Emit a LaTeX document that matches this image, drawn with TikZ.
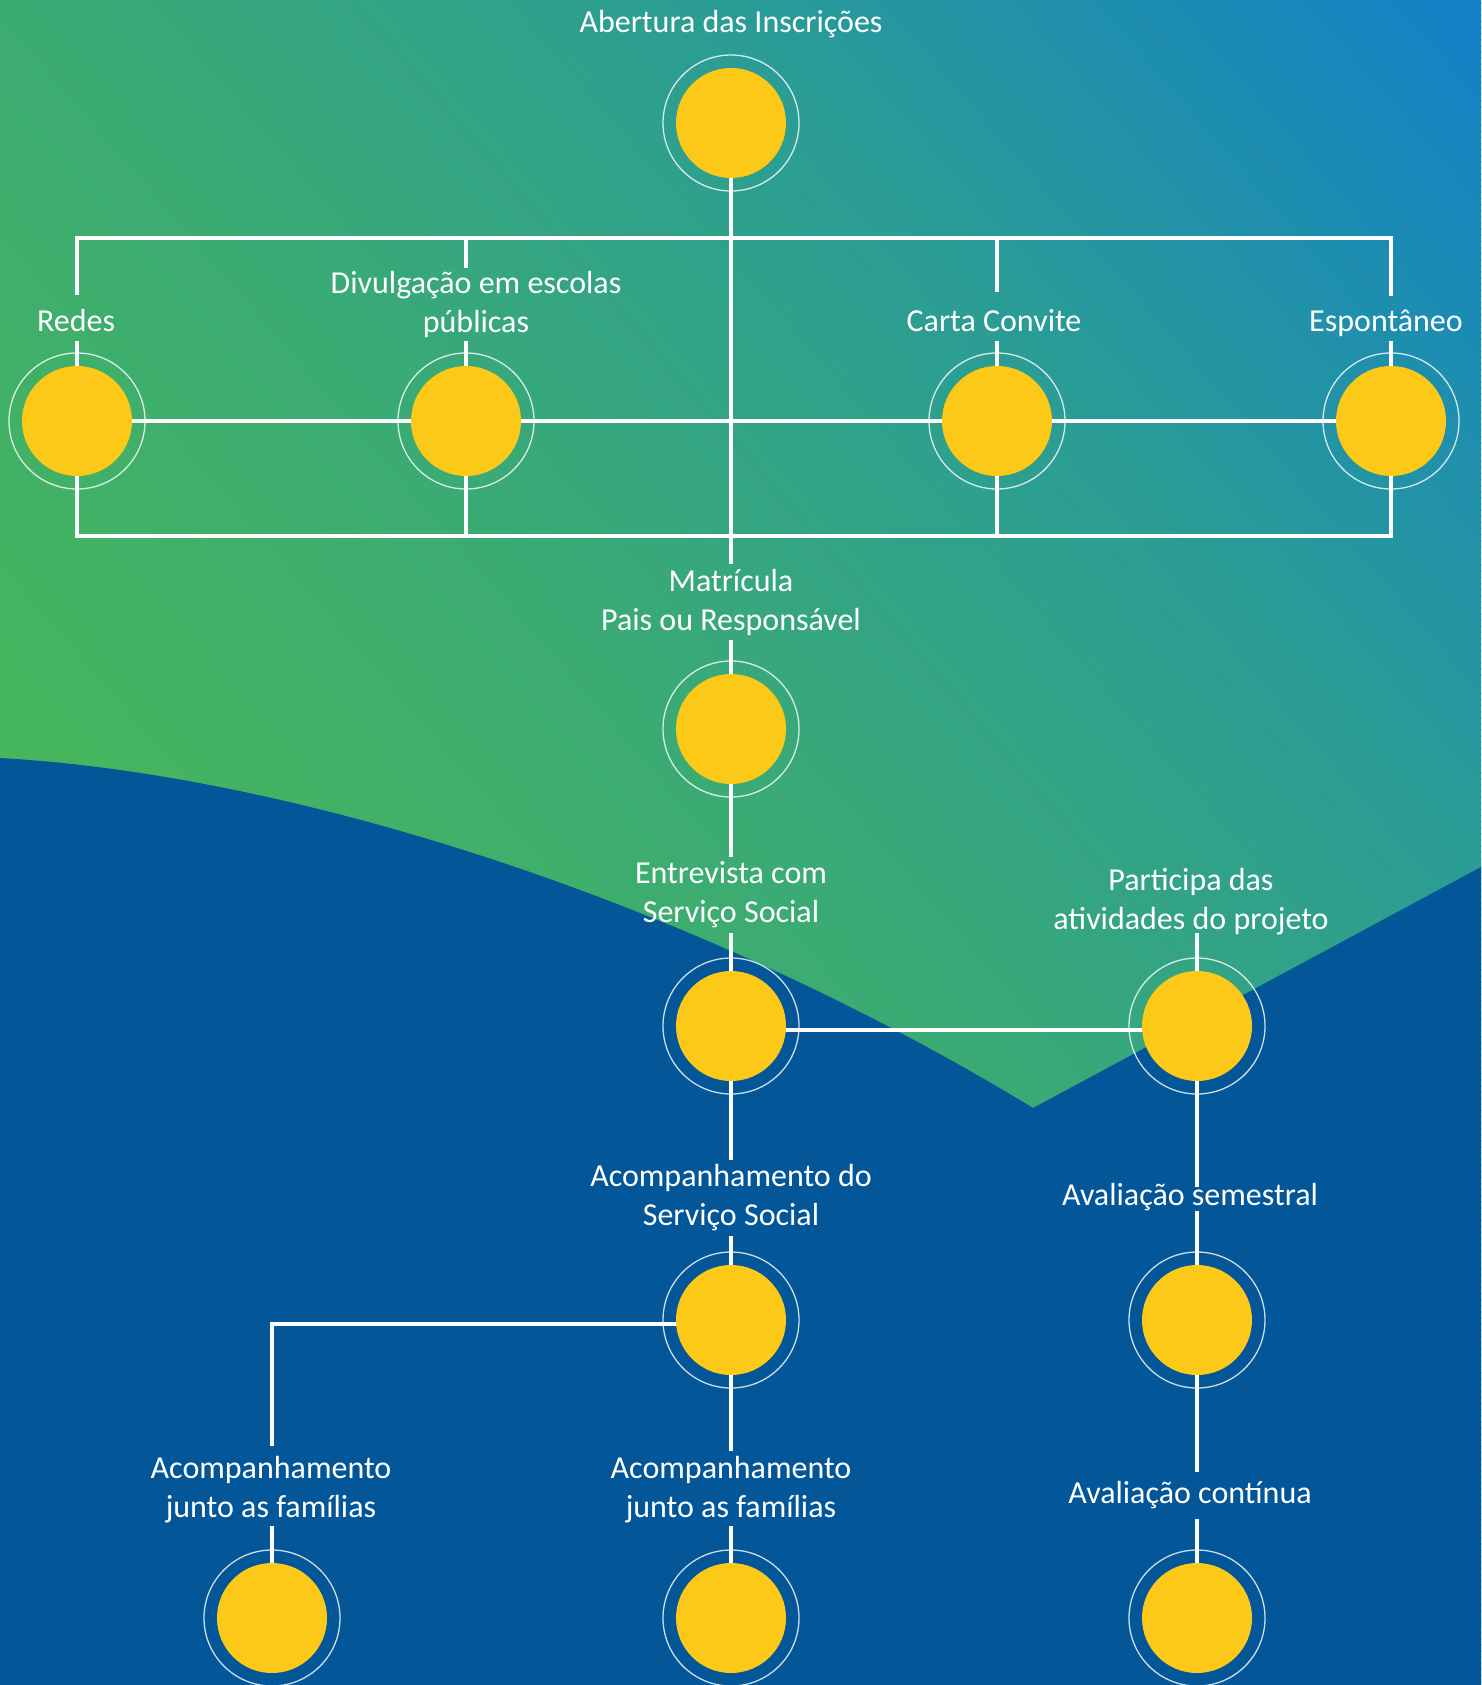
\documentclass[tikz,border=0pt]{standalone}
\usepackage{fontspec}
\setmainfont{Carlito}
\definecolor{bgG}{RGB}{70,182,92}
\definecolor{bgM}{RGB}{58,170,118}
\definecolor{bgT}{RGB}{42,156,150}
\definecolor{bgB}{RGB}{18,128,200}
\definecolor{navy}{RGB}{3,87,152}
\definecolor{yel}{RGB}{253,201,24}
\begin{document}
\begin{tikzpicture}[x=1pt,y=-1pt,
  conn/.style={draw=white, line width=4pt},
  ringline/.style={draw=white, draw opacity=0.8, line width=1.3pt},
  dot/.style={circle, fill=yel, minimum size=110pt, inner sep=0pt},
  lbl/.style={text=white, font=\fontsize{32pt}{39pt}\selectfont, align=center, inner sep=0pt, anchor=base}]
\useasboundingbox (0,0) rectangle (1481,1685);
% background gradient
\begin{scope}
\clip (0,0) rectangle (1481,1685);
\begin{scope}[rotate=40.9]
\fill[bgG] (-900,-2600) rectangle (-489,2600);
\foreach \p in {-490,-486,...,56} {\pgfmathsetmacro\t{(\p+490)/546*100}\fill[bgM!\t!bgG] (\p,-2600) rectangle (\p+5,2600);}
\foreach \p in {56,60,...,553} {\pgfmathsetmacro\t{(\p-56)/497*100}\fill[bgT!\t!bgM] (\p,-2600) rectangle (\p+5,2600);}
\foreach \p in {553,557,...,1120} {\pgfmathsetmacro\t{(\p-553)/567*100}\fill[bgB!\t!bgT] (\p,-2600) rectangle (\p+5,2600);}
\fill[bgB] (1120,-2600) rectangle (1600,2600);
\end{scope}
\fill[navy] (0,758) .. controls (300,775) and (700,905) .. (1033,1108) -- (1481,867) -- (1481,1685) -- (0,1685) -- cycle;
\end{scope}
% circle centres
\coordinate (top) at (731,123);
\coordinate (redes) at (77,421);
\coordinate (divul) at (466,421);
\coordinate (carta) at (997,421);
\coordinate (espont) at (1391,421);
\coordinate (matric) at (731,729);
\coordinate (entrev) at (731,1026);
\coordinate (partic) at (1197,1026);
\coordinate (acomp) at (731,1320);
\coordinate (avsem) at (1197,1320);
\coordinate (famA) at (272,1618);
\coordinate (famB) at (731,1618);
\coordinate (avcont) at (1197,1618);
% connectors
\draw[conn] (top) -- (731,564);
\draw[conn] (redes |- 0,295) -- (redes |- 0,238) -- (espont |- 0,238) -- (espont |- 0,296);
\draw[conn] (divul |- 0,238) -- (divul |- 0,268);
\draw[conn] (carta |- 0,238) -- (carta |- 0,292);
\foreach \c in {redes,divul,carta,espont} {\draw[conn] (\c) -- (\c |- 0,341);}
\draw[conn] (redes) -- (espont);
\draw[conn] (redes) -- (redes |- 0,536) -- (espont |- 0,536) -- (espont);
\draw[conn] (divul) -- (divul |- 0,536);
\draw[conn] (carta) -- (carta |- 0,536);
\draw[conn] (matric) -- (matric |- 0,640);
\draw[conn] (matric) -- (matric |- 0,857);
\draw[conn] (entrev) -- (entrev |- 0,933);
\draw[conn] (entrev |- 0,1030) -- (partic |- 0,1030);
\draw[conn] (partic) -- (partic |- 0,933);
\draw[conn] (entrev) -- (entrev |- 0,1160);
\draw[conn] (acomp) -- (acomp |- 0,1236);
\draw[conn] (partic) -- (partic |- 0,1187);
\draw[conn] (avsem) -- (avsem |- 0,1211);
\draw[conn] (avsem) -- (avsem |- 0,1472);
\draw[conn] (avcont) -- (avcont |- 0,1519);
\draw[conn] (acomp |- 0,1324) -| (famA |- 0,1446);
\draw[conn] (acomp) -- (acomp |- 0,1451);
\draw[conn] (famA) -- (famA |- 0,1526);
\draw[conn] (famB) -- (famB |- 0,1526);
% circles
\foreach \c in {top,redes,divul,carta,espont,matric,entrev,partic,acomp,avsem,famA,famB,avcont} {
  \draw[ringline] (\c) circle (68pt);
  \node[dot] (\c-dot) at (\c) {};
}
% labels (base = baseline of last line)
\node[lbl] (lAb) at (731,33) {Abertura das Inscrições};
\node[lbl] (lRedes) at (76,331) {Redes};
\node[lbl] (lDiv) at (476,332) {Divulgação em escolas\\públicas};
\node[lbl] (lCarta) at (994,331) {Carta Convite};
\node[lbl] (lEsp) at (1386,331) {Espontâneo};
\node[lbl] (lMat) at (731,630) {Matrícula\\Pais ou Responsável};
\node[lbl] (lEnt) at (731,922) {Entrevista com\\Serviço Social};
\node[lbl] (lPart) at (1191,929) {Participa das\\atividades do projeto};
\node[lbl] (lAcomp) at (731,1225) {Acompanhamento do\\Serviço Social};
\node[lbl] (lAvS) at (1190,1205) {Avaliação semestral};
\node[lbl] (lAvC) at (1190,1503) {Avaliação contínua};
\node[lbl] (lFamA) at (271,1517) {Acompanhamento\\junto as famílias};
\node[lbl] (lFamB) at (731,1517) {Acompanhamento\\junto as famílias};
\end{tikzpicture}
\end{document}
